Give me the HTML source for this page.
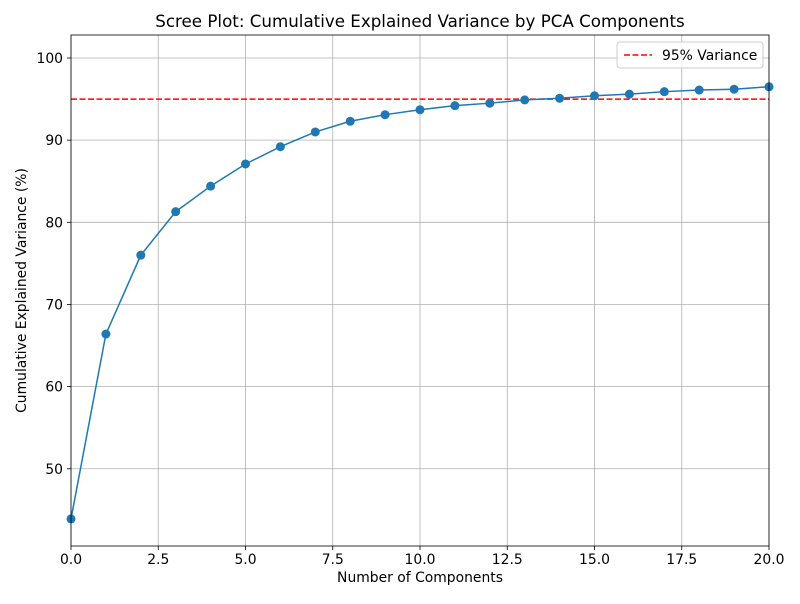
<!DOCTYPE html>
<html><head><meta charset="utf-8"><style>
body{margin:0;background:#fff;font-family:"DejaVu Sans","Liberation Sans",sans-serif;}
</style></head><body>
<svg id="chart" width="800" height="600" xmlns="http://www.w3.org/2000/svg" style="font-family:'DejaVu Sans','Liberation Sans',sans-serif">
</svg>
<script>
const components = [0,1,2,3,4,5,6,7,8,9,10,11,12,13,14,15,16,17,18,19,20];
const cumVariance = [43.9,66.4,76.0,81.3,84.4,87.1,89.2,91.0,92.3,93.1,93.7,94.2,94.5,94.9,95.1,95.4,95.6,95.9,96.1,96.2,96.5];
const xTicks = [0,2.5,5,7.5,10,12.5,15,17.5,20];
const xTickLabels = ["0.0","2.5","5.0","7.5","10.0","12.5","15.0","17.5","20.0"];
const yTicks = [50,60,70,80,90,100];
const threshold = [95];

const L=71,R=769,T=35,B=546;
const xMin=0,xMax=20,yMin=40.6,yMax=102.8;
const sx=v=>L+(v-xMin)/(xMax-xMin)*(R-L);
const sy=v=>B-(v-yMin)/(yMax-yMin)*(B-T);
const svg=document.getElementById('chart');
const NS='http://www.w3.org/2000/svg';
function mk(tag,attrs,parent){const e=document.createElementNS(NS,tag);for(const k in attrs)e.setAttribute(k,attrs[k]);(parent||svg).appendChild(e);return e;}

mk('rect',{x:0,y:0,width:800,height:600,fill:'#fff'});
const grid=mk('g',{});


xTicks.forEach((t,i)=>{
  const x=sx(t);
  mk('line',{x1:x,x2:x,y1:T,y2:B,stroke:'#b0b0b0','stroke-width':0.8},grid);
  mk('line',{x1:x,x2:x,y1:B,y2:B+4,stroke:'#000','stroke-width':0.8});
  const tx=mk('text',{x:x,y:B+18,'text-anchor':'middle','font-size':13.9,fill:'#000'});
  tx.textContent=xTickLabels[i];
  
  
});
yTicks.forEach(t=>{
  const y=sy(t);
  mk('line',{x1:L,x2:R,y1:y,y2:y,stroke:'#b0b0b0','stroke-width':0.8},grid);
  mk('line',{x1:L-4,x2:L,y1:y,y2:y,stroke:'#000','stroke-width':0.8});
  const tx=mk('text',{x:L-8,y:y+5,'text-anchor':'end','font-size':13.9,fill:'#000'});
  tx.textContent=String(t);
  
  
});

const th=mk('line',{x1:L,x2:R,y1:sy(threshold[0]),y2:sy(threshold[0]),stroke:'#ff0000','stroke-width':1.5,'stroke-dasharray':'6,2.5'});



const pts=components.map((c,i)=>sx(c)+','+sy(cumVariance[i])).join(' ');
const line=mk('polyline',{points:pts,fill:'none',stroke:'#1f77b4','stroke-width':1.5});


components.forEach((c,i)=>{
  const p=mk('circle',{cx:sx(c),cy:sy(cumVariance[i]),r:4.5,fill:'#1f77b4'});
  
  
});

const frame=mk('rect',{x:L,y:T,width:R-L,height:B-T,fill:'none',stroke:'#000','stroke-width':0.8});



const title=mk('text',{x:(L+R)/2,y:27,'text-anchor':'middle','font-size':16.7,fill:'#000'});
title.textContent='Scree Plot: Cumulative Explained Variance by PCA Components';


const xt=mk('text',{x:(L+R)/2,y:582,'text-anchor':'middle','font-size':13.9,fill:'#000'});
xt.textContent='Number of Components';


const yt=mk('text',{x:26,y:(T+B)/2,'text-anchor':'middle','font-size':13.9,fill:'#000',transform:'rotate(-90 26 '+((T+B)/2)+')'});
yt.textContent='Cumulative Explained Variance (%)';



const lg=mk('g',{});


mk('rect',{x:617,y:42,width:146,height:26,rx:3,fill:'#fff','fill-opacity':0.8,stroke:'#ccc'},lg);
mk('line',{x1:624,x2:652,y1:55,y2:55,stroke:'#ff0000','stroke-width':1.5,'stroke-dasharray':'6,2.5'},lg);
const lt=mk('text',{x:662,y:60,'font-size':13.9,fill:'#000'},lg);
lt.textContent='95% Variance';


</script>
</body></html>
